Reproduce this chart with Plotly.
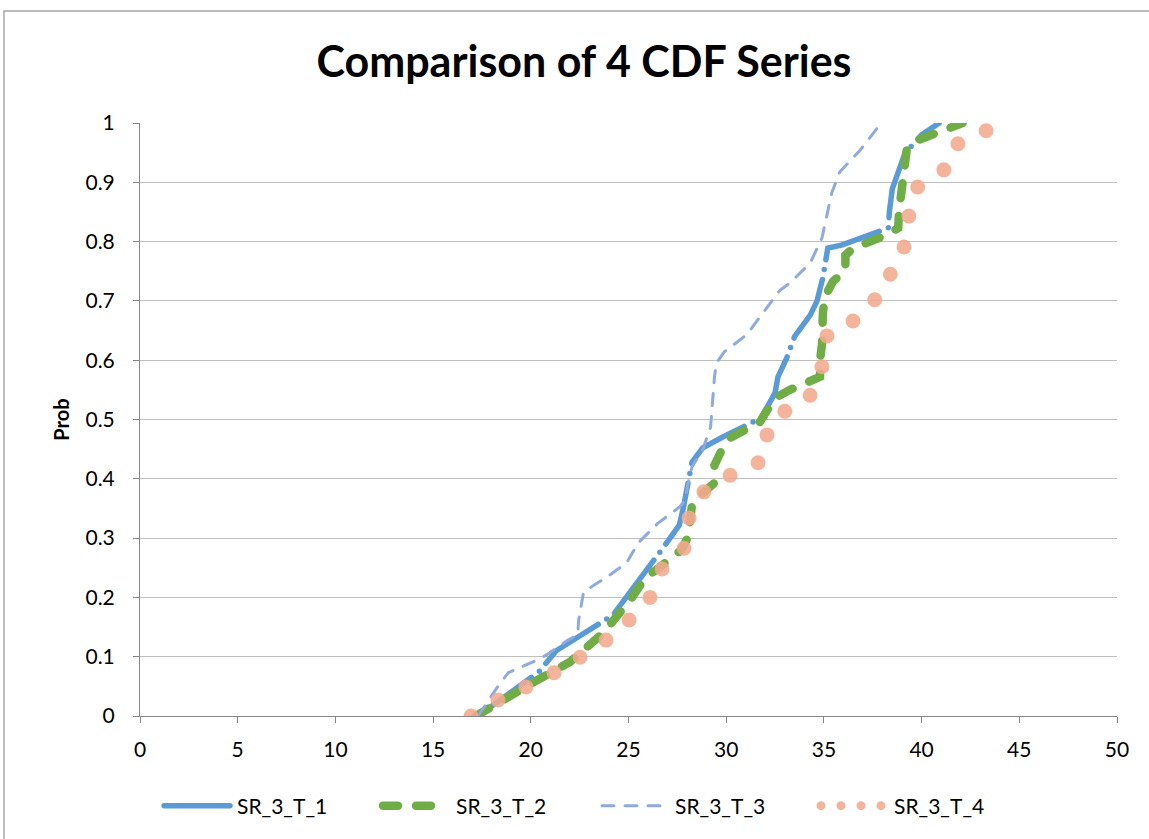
import plotly.graph_objects as go

# ---- data ----
x_ticks = [0, 5, 10, 15, 20, 25, 30, 35, 40, 45, 50]
y_ticks = [0, 0.1, 0.2, 0.3, 0.4, 0.5, 0.6, 0.7, 0.8, 0.9, 1.0]
y_tick_labels = ["0", "0.1", "0.2", "0.3", "0.4", "0.5", "0.6", "0.7", "0.8", "0.9", "1"]

t1_x = [17.3, 19.8, 20.4, 21.3, 22.3, 24.2, 26.8, 27.6, 27.8, 28.0,
        28.25, 28.8, 29.8, 31.8, 32.5, 32.65, 33.1, 33.5, 34.3, 34.65,
        34.95, 35.2, 35.9, 38.3, 38.35, 38.5, 39.15, 40.0, 40.9]
t1_y = [0.0, 0.06, 0.074, 0.11, 0.13, 0.17, 0.285, 0.322, 0.35, 0.386,
        0.428, 0.452, 0.47, 0.503, 0.545, 0.572, 0.604, 0.64, 0.676, 0.70,
        0.74, 0.789, 0.794, 0.823, 0.85, 0.889, 0.949, 0.98, 1.0]

t2_x = [17.2, 19.8, 20.3, 22.0, 23.2, 23.7, 25.1, 25.85, 26.6, 27.7,
        28.05, 28.15, 28.25, 28.8, 29.4, 29.4, 29.7, 30.2, 30.86, 31.73,
        32.1, 32.6, 33.26, 34.13, 34.8, 34.8, 34.9, 34.95, 35.05, 35.45,
        36.1, 36.1, 36.5, 38.2, 38.8, 38.85, 39.0, 39.25, 39.8, 41.3, 42.1]
t2_y = [0.0, 0.052, 0.06, 0.091, 0.123, 0.14, 0.196, 0.233, 0.251, 0.28,
        0.302, 0.325, 0.356, 0.376, 0.393, 0.423, 0.444, 0.469, 0.482, 0.496,
        0.516, 0.538, 0.55, 0.563, 0.572, 0.6, 0.626, 0.68, 0.707, 0.732,
        0.752, 0.777, 0.789, 0.811, 0.823, 0.853, 0.904, 0.958, 0.971, 0.99, 1.0]

t3_x = [17.3, 18.3, 18.85, 20.3, 20.8, 21.9, 22.4, 22.45, 22.7, 23.4,
        24.05, 24.9, 25.5, 26.5, 27.6, 27.9, 28.05, 28.25, 28.8, 29.2,
        29.4, 29.5, 29.9, 31.05, 32.1, 32.75, 33.26, 34.3, 34.9, 35.4,
        35.8, 36.85, 37.7, 37.9]
t3_y = [0.0, 0.049, 0.073, 0.094, 0.103, 0.128, 0.137, 0.162, 0.209, 0.224,
        0.238, 0.258, 0.292, 0.325, 0.352, 0.364, 0.393, 0.42, 0.449, 0.487,
        0.572, 0.595, 0.614, 0.643, 0.69, 0.718, 0.73, 0.764, 0.806, 0.882,
        0.917, 0.954, 0.99, 1.0]

t4_x = [16.94, 18.32, 19.75, 21.19, 22.52, 23.85, 25.03, 26.1, 26.72, 27.84,
        28.1, 28.86, 30.2, 31.63, 32.09, 33.0, 34.29, 34.9, 35.16, 36.49,
        37.6, 38.4, 39.1, 39.35, 39.8, 41.14, 41.86, 43.3]
t4_y = [0.0, 0.027, 0.049, 0.073, 0.099, 0.128, 0.162, 0.2, 0.248, 0.283,
        0.334, 0.378, 0.406, 0.427, 0.474, 0.514, 0.541, 0.589, 0.641, 0.666,
        0.702, 0.745, 0.791, 0.843, 0.892, 0.921, 0.965, 0.987]

series_names = ["SR_3_T_1", "SR_3_T_2", "SR_3_T_3", "SR_3_T_4"]
title_text = "Comparison of 4 CDF Series"
y_title = "Prob"

# ---- figure ----
W, H = 1149, 839
L, R, T, B = 140, 32, 123, 123
PW, PH = W - L - R, H - T - B

C1, C2, C3, C4 = "#5B9BD5", "#70AD47", "#8FAADC", "rgba(243,170,142,0.88)"

fig = go.Figure()
fig.add_trace(go.Scatter(x=t1_x, y=t1_y, mode="lines", name=series_names[0],
                         line=dict(color=C1, width=5.5, dash="66px,10px,0px,10px")))
fig.add_trace(go.Scatter(x=t2_x, y=t2_y, mode="lines", name=series_names[1],
                         line=dict(color=C2, width=8.5, dash="15px,18px")))
fig.add_trace(go.Scatter(x=t3_x, y=t3_y, mode="lines", name=series_names[2],
                         line=dict(color=C3, width=3, dash="12px,11px")))
fig.add_trace(go.Scatter(x=t4_x, y=t4_y, mode="markers", name=series_names[3],
                         showlegend=False,
                         marker=dict(color=C4, size=15, line=dict(width=0))))
# legend entry for the round-dot series
fig.add_trace(go.Scatter(x=[None], y=[None], mode="lines", name=series_names[3],
                         line=dict(color=C4, width=9, dash="0px,20px")))

def px_x(p):
    return (p - L) / PW

def px_y(p):
    return (H - B - p) / PH

fig.add_shape(type="rect", xref="paper", yref="paper",
              x0=px_x(4), x1=px_x(1180), y0=px_y(860), y1=px_y(11),
              line=dict(color="#A6A6A6", width=1.5), fillcolor="rgba(0,0,0,0)", layer="below")

fig.update_layout(
    width=W, height=H,
    margin=dict(l=L, r=R, t=T, b=B, autoexpand=False),
    paper_bgcolor="white", plot_bgcolor="white",
    font=dict(family="Lato, 'Open Sans', sans-serif", color="#000000", size=21),
    title=dict(text="<b>" + title_text + "</b>", x=584 / W, xref="container", xanchor="center",
               y=1 - 62 / H, yref="container", yanchor="middle",
               font=dict(size=43, color="#000000")),
    xaxis=dict(range=[0, 50], tickmode="array", tickvals=x_ticks,
               ticks="outside", ticklen=6, tickcolor="#868686", tickwidth=1,
               showline=True, linecolor="#868686", linewidth=1,
               showgrid=False, zeroline=False, ticklabelstandoff=9, fixedrange=True),
    yaxis=dict(range=[0, 1], tickmode="array", tickvals=y_ticks, ticktext=y_tick_labels,
               ticks="outside", ticklen=6, tickcolor="#868686", tickwidth=1,
               showline=True, linecolor="#868686", linewidth=1,
               showgrid=True, gridcolor="#BFBFBF", gridwidth=1, zeroline=False,
               ticklabelstandoff=14, fixedrange=True,
               title=dict(text="<b>" + y_title + "</b>", font=dict(size=20), standoff=10)),
    legend=dict(orientation="h", x=px_x(159), xanchor="left", y=px_y(806), yanchor="middle",
                entrywidth=136, itemwidth=68, font=dict(size=21), bgcolor="rgba(0,0,0,0)"),
    showlegend=True,
)

post = """
document.body.style.margin = '0';
document.body.style.overflow = 'hidden';
var gd = document.getElementById('{plot_id}');
gd.querySelectorAll('.scatterlayer .js-line').forEach(function(p){
  p.style.strokeLinecap = 'round';
});
gd.querySelectorAll('.legendlines path').forEach(function(p){
  p.setAttribute('d', 'M5,0h66');
  p.style.strokeLinecap = 'round';
});
"""

fig.write_html("out.html", post_script=post, config={"displayModeBar": False})
